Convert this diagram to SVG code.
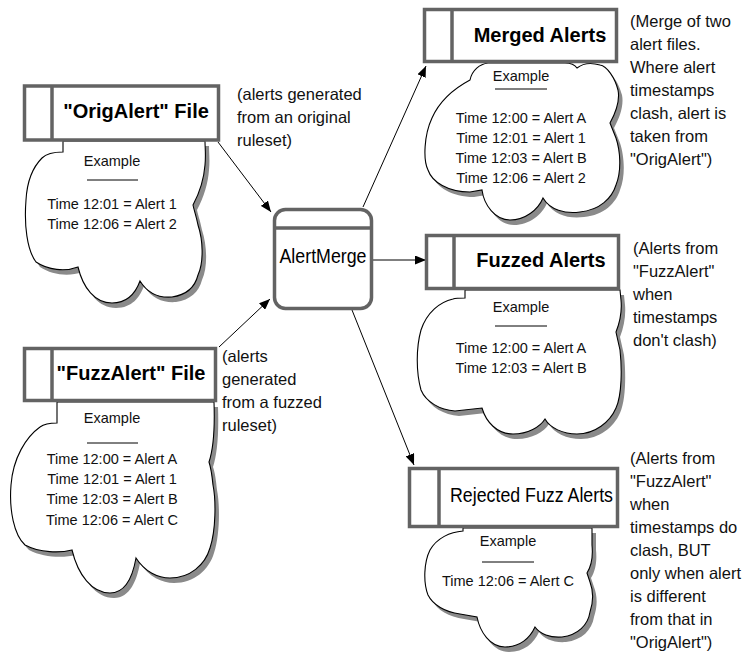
<svg xmlns="http://www.w3.org/2000/svg" width="751" height="654" viewBox="0 0 751 654">
<style>
.bg{fill:#fff}
.box{fill:#fff;stroke:#636363;stroke-width:3.5}
.div{stroke:#636363;stroke-width:3.5;fill:none}
.cloud{fill:#fff;stroke:#000;stroke-width:1.1}
.shadow{fill:#8a8a8a;stroke:none}
.title{font-family:"Liberation Sans",Arial,sans-serif;font-weight:bold;font-size:20px;fill:#000;text-anchor:middle}
.plain{font-family:"Liberation Sans",Arial,sans-serif;font-size:20px;fill:#000;text-anchor:middle}
.ex{font-family:"Liberation Sans",Arial,sans-serif;font-size:14.5px;fill:#111;text-anchor:middle}
.ul{stroke:#000;stroke-width:1}
.note{font-family:"Liberation Sans",Arial,sans-serif;font-size:16.5px;fill:#111}
.conn{stroke:#000;stroke-width:1;fill:none;marker-end:url(#arr)}
</style>
<defs>
<marker id="arr" markerUnits="userSpaceOnUse" markerWidth="11" markerHeight="9" refX="11" refY="4.5" orient="auto">
<path d="M0,0 L11,4.5 L0,9 Z" fill="#000"/>
</marker>
</defs>
<rect class="bg" x="0" y="0" width="751" height="654"/>

<g id="connectors">
<line class="conn" x1="218" y1="142" x2="271" y2="212"/>
<line class="conn" x1="219" y1="347" x2="270" y2="299"/>
<line class="conn" x1="363" y1="207" x2="426" y2="66"/>
<line class="conn" x1="373" y1="260" x2="426" y2="260"/>
<line class="conn" x1="352" y1="310" x2="414" y2="465"/>
</g>

<g id="origalert">
<path class="shadow" transform="translate(4,5)" d="M63,141 V152 C55,152 47,153 42,158 C32,168 27,182 26,200 C24,225 27,250 36,262 C48,270 65,272 78,267 C83,288 95,303 112,303 C128,303 136,292 140,281 C148,294 160,298 172,297 C186,295 195,287 198,275 C204,262 203,240 198,225 C196,215 194,210 193,205 C200,192 204,178 205,165 C206,155 205,148 205,141 Z"/>
<path class="cloud" d="M63,141 V152 C55,152 47,153 42,158 C32,168 27,182 26,200 C24,225 27,250 36,262 C48,270 65,272 78,267 C83,288 95,303 112,303 C128,303 136,292 140,281 C148,294 160,298 172,297 C186,295 195,287 198,275 C204,262 203,240 198,225 C196,215 194,210 193,205 C200,192 204,178 205,165 C206,155 205,148 205,141 Z"/>
<rect class="box" x="24.5" y="86" width="194" height="54"/>
<line class="div" x1="52" y1="86" x2="52" y2="140"/>
<text class="title" x="136" y="118">"OrigAlert" File</text>
<text class="ex" x="112" y="166">Example</text>
<line class="ul" x1="87" y1="180" x2="138" y2="180"/>
<text class="ex" x="112" y="209">Time 12:01 = Alert 1</text>
<text class="ex" x="112" y="229">Time 12:06 = Alert 2</text>
<text class="note" x="237"><tspan x="237" y="100">(alerts generated</tspan><tspan x="237" y="123">from an original</tspan><tspan x="237" y="146">ruleset)</tspan></text>
</g>

<g id="fuzzalert">
<path class="shadow" transform="translate(4,5)" d="M57,402 V423 C50,423 44,424 40,427 C26,437 13,458 11,485 C9,510 14,535 25,545 C40,553 60,553 72,550 C78,575 92,593 110,593 C126,593 133,575 136,558 C145,572 158,578 170,578 C190,578 205,565 210,548 C216,530 216,500 213,485 C212,475 211,468 209,462 C213,450 215,430 214,402 Z"/>
<path class="cloud" d="M57,402 V423 C50,423 44,424 40,427 C26,437 13,458 11,485 C9,510 14,535 25,545 C40,553 60,553 72,550 C78,575 92,593 110,593 C126,593 133,575 136,558 C145,572 158,578 170,578 C190,578 205,565 210,548 C216,530 216,500 213,485 C212,475 211,468 209,462 C213,450 215,430 214,402 Z"/>
<rect class="box" x="24.5" y="348.5" width="191" height="52"/>
<line class="div" x1="52" y1="348.5" x2="52" y2="400.5"/>
<text class="title" x="131" y="380">"FuzzAlert" File</text>
<text class="ex" x="112" y="423">Example</text>
<line class="ul" x1="87" y1="443" x2="138" y2="443"/>
<text class="ex" x="112" y="464">Time 12:00 = Alert A</text>
<text class="ex" x="112" y="484">Time 12:01 = Alert 1</text>
<text class="ex" x="112" y="504">Time 12:03 = Alert B</text>
<text class="ex" x="112" y="525">Time 12:06 = Alert C</text>
<text class="note"><tspan x="222" y="362">(alerts</tspan><tspan x="222" y="385">generated</tspan><tspan x="222" y="408">from a fuzzed</tspan><tspan x="222" y="431">ruleset)</tspan></text>
</g>

<g id="alertmerge">
<rect class="box" x="274.5" y="209.5" width="97" height="99" rx="11" ry="11"/>
<line class="div" x1="274.5" y1="228" x2="371.5" y2="228"/>
<text class="plain" x="323" y="263" font-size="19" textLength="87" lengthAdjust="spacingAndGlyphs">AlertMerge</text>
</g>

<g id="merged">
<path class="shadow" transform="translate(4,5)" d="M488,63 C480,64 472,70 470,80 C455,88 440,100 432,118 C424,135 423,160 428,170 C432,182 448,192 470,192 L482,190 C484,205 495,220 510,220 C525,220 538,210 543,198 C550,210 565,214 580,212 C600,210 612,198 616,185 C622,170 620,150 616,138 L610,123 C616,112 620,100 618,90 C615,78 607,66 600,65 C590,62 582,64 577,68 C575,65 570,63 565,63 Z"/>
<path class="cloud" d="M488,63 C480,64 472,70 470,80 C455,88 440,100 432,118 C424,135 423,160 428,170 C432,182 448,192 470,192 L482,190 C484,205 495,220 510,220 C525,220 538,210 543,198 C550,210 565,214 580,212 C600,210 612,198 616,185 C622,170 620,150 616,138 L610,123 C616,112 620,100 618,90 C615,78 607,66 600,65 C590,62 582,64 577,68 C575,65 570,63 565,63 Z"/>
<rect class="box" x="424.5" y="9.5" width="192" height="52"/>
<line class="div" x1="452" y1="9.5" x2="452" y2="61.5"/>
<text class="title" x="540" y="42">Merged Alerts</text>
<text class="ex" x="521" y="81">Example</text>
<line class="ul" x1="495" y1="89" x2="547" y2="89"/>
<text class="ex" x="521" y="123">Time 12:00 = Alert A</text>
<text class="ex" x="521" y="143">Time 12:01 = Alert 1</text>
<text class="ex" x="521" y="163">Time 12:03 = Alert B</text>
<text class="ex" x="521" y="183">Time 12:06 = Alert 2</text>
<text class="note"><tspan x="630" y="27">(Merge of two</tspan><tspan x="630" y="50">alert files.</tspan><tspan x="630" y="73">Where alert</tspan><tspan x="630" y="96">timestamps</tspan><tspan x="630" y="119">clash, alert is</tspan><tspan x="630" y="142">taken from</tspan><tspan x="630" y="165">"OrigAlert")</tspan></text>
</g>

<g id="fuzzed">
<path class="shadow" transform="translate(4,5)" d="M465,290 V298 C460,298 456,298 453,299 C440,302 427,312 421,330 C416,348 416,372 421,390 C426,402 440,410 455,411 L482,408 C486,422 497,434 513,434 C528,434 540,427 545,419 C550,428 563,434 577,434 C595,434 610,422 616,408 C622,395 622,368 620,350 L616,332 C620,322 622,310 621,300 L620,290 Z"/>
<path class="cloud" d="M465,290 V298 C460,298 456,298 453,299 C440,302 427,312 421,330 C416,348 416,372 421,390 C426,402 440,410 455,411 L482,408 C486,422 497,434 513,434 C528,434 540,427 545,419 C550,428 563,434 577,434 C595,434 610,422 616,408 C622,395 622,368 620,350 L616,332 C620,322 622,310 621,300 L620,290 Z"/>
<rect class="box" x="426.5" y="235.5" width="192" height="53"/>
<line class="div" x1="454" y1="235.5" x2="454" y2="288.5"/>
<text class="title" x="541" y="267">Fuzzed Alerts</text>
<text class="ex" x="521" y="312">Example</text>
<line class="ul" x1="495" y1="326" x2="547" y2="326"/>
<text class="ex" x="521" y="353">Time 12:00 = Alert A</text>
<text class="ex" x="521" y="373">Time 12:03 = Alert B</text>
<text class="note"><tspan x="633" y="254">(Alerts from</tspan><tspan x="633" y="277">"FuzzAlert"</tspan><tspan x="633" y="300">when</tspan><tspan x="633" y="323">timestamps</tspan><tspan x="633" y="346">don't clash)</tspan></text>
</g>

<g id="rejected">
<path class="shadow" transform="translate(4,5)" d="M463,528 V531 C450,532 437,538 430,550 C424,562 423,582 428,595 C433,605 445,612 460,614 L477,617 C480,632 490,647 505,647 C520,647 530,638 535,627 C540,634 550,638 562,637 C578,635 588,625 590,612 C594,600 593,590 590,582 L587,573 C592,565 593,555 592,545 L592,528 Z"/>
<path class="cloud" d="M463,528 V531 C450,532 437,538 430,550 C424,562 423,582 428,595 C433,605 445,612 460,614 L477,617 C480,632 490,647 505,647 C520,647 530,638 535,627 C540,634 550,638 562,637 C578,635 588,625 590,612 C594,600 593,590 590,582 L587,573 C592,565 593,555 592,545 L592,528 Z"/>
<rect class="box" x="409.5" y="468.5" width="208" height="58"/>
<line class="div" x1="439" y1="468.5" x2="439" y2="526.5"/>
<text class="plain" x="531.5" y="502" textLength="163" lengthAdjust="spacingAndGlyphs">Rejected Fuzz Alerts</text>
<text class="ex" x="508" y="546">Example</text>
<line class="ul" x1="482" y1="562" x2="534" y2="562"/>
<text class="ex" x="508" y="586">Time 12:06 = Alert C</text>
<text class="note"><tspan x="630" y="464">(Alerts from</tspan><tspan x="630" y="487">"FuzzAlert"</tspan><tspan x="630" y="510">when</tspan><tspan x="630" y="533">timestamps do</tspan><tspan x="630" y="556">clash, BUT</tspan><tspan x="630" y="579">only when alert</tspan><tspan x="630" y="602">is different</tspan><tspan x="630" y="625">from that in</tspan><tspan x="630" y="648">"OrigAlert")</tspan></text>
</g>
</svg>
